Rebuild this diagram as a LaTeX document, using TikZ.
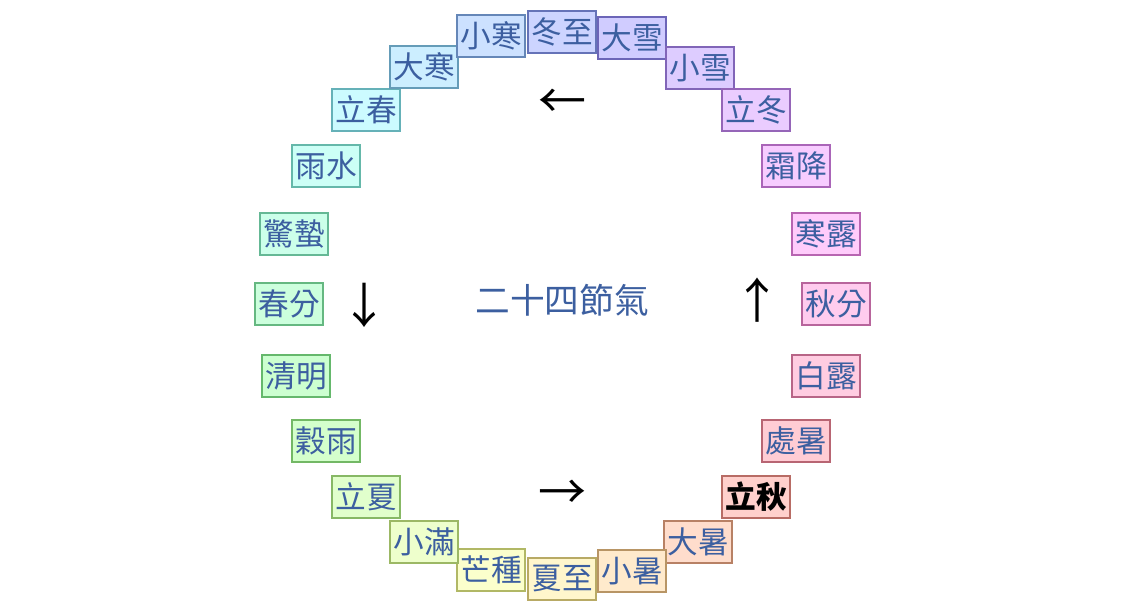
\PassOptionsToPackage{rgb}{xcolor}
\documentclass[tikz,border=0pt]{standalone}
\usepackage{fontspec}
\newfontfamily\cjk{Noto Sans CJK TC}
\definecolor{txt}{RGB}{60,95,160}
\begin{document}
\begin{tikzpicture}[x=0.75pt,y=-0.75pt,
  term/.style={draw=bd,fill=bg,line width=1.3pt,minimum width=68*0.75pt,minimum height=42*0.75pt,inner sep=0.5pt,text=txt,font=\cjk\fontsize{23}{25}\selectfont},
  arr/.style={font=\cjk\fontsize{36}{36}\selectfont}]
\useasboundingbox (0,0) rectangle (1140,612);
\foreach \t/\x/\y [count=\i from 0] in {冬至/562/32,大雪/632/38,小雪/700/68,立冬/756/110,霜降/796/166,寒露/826/234,秋分/836/304,白露/826/376,處暑/796/441,立秋/756/497,大暑/698/542,小暑/632/571,夏至/562/579,芒種/491/570,小滿/424/542,立夏/366/497,穀雨/326/441,清明/296/376,春分/289/304,驚蟄/294/234,雨水/326/166,立春/366/110,大寒/424/67,小寒/491/36}{
  \pgfmathtruncatemacro\h{mod(230+15*\i,360)}
  \convertcolorspec{Hsb}{\h,0.2,1}{rgb}\bgspec
  \convertcolorspec{Hsb}{\h,0.45,0.72}{rgb}\bdspec
  \definecolor{bg}{rgb}{\bgspec}
  \definecolor{bd}{rgb}{\bdspec}
  \ifnum\i=9
    \node[term,text=black,font=\cjk\bfseries\fontsize{23}{25}\selectfont] (n\i) at (\x,\y) {\t};
  \else
    \node[term] (n\i) at (\x,\y) {\t};
  \fi
}
\node[text=txt,font=\cjk\fontsize{26}{28}\selectfont] (c) at (562,300) {二十四節氣};
\node[arr] (a1) at (562,104) {←};
\node[arr] (a2) at (364,305) {↓};
\node[arr] (a3) at (562,495) {→};
\node[arr] (a4) at (757,300) {↑};
\end{tikzpicture}
\end{document}
